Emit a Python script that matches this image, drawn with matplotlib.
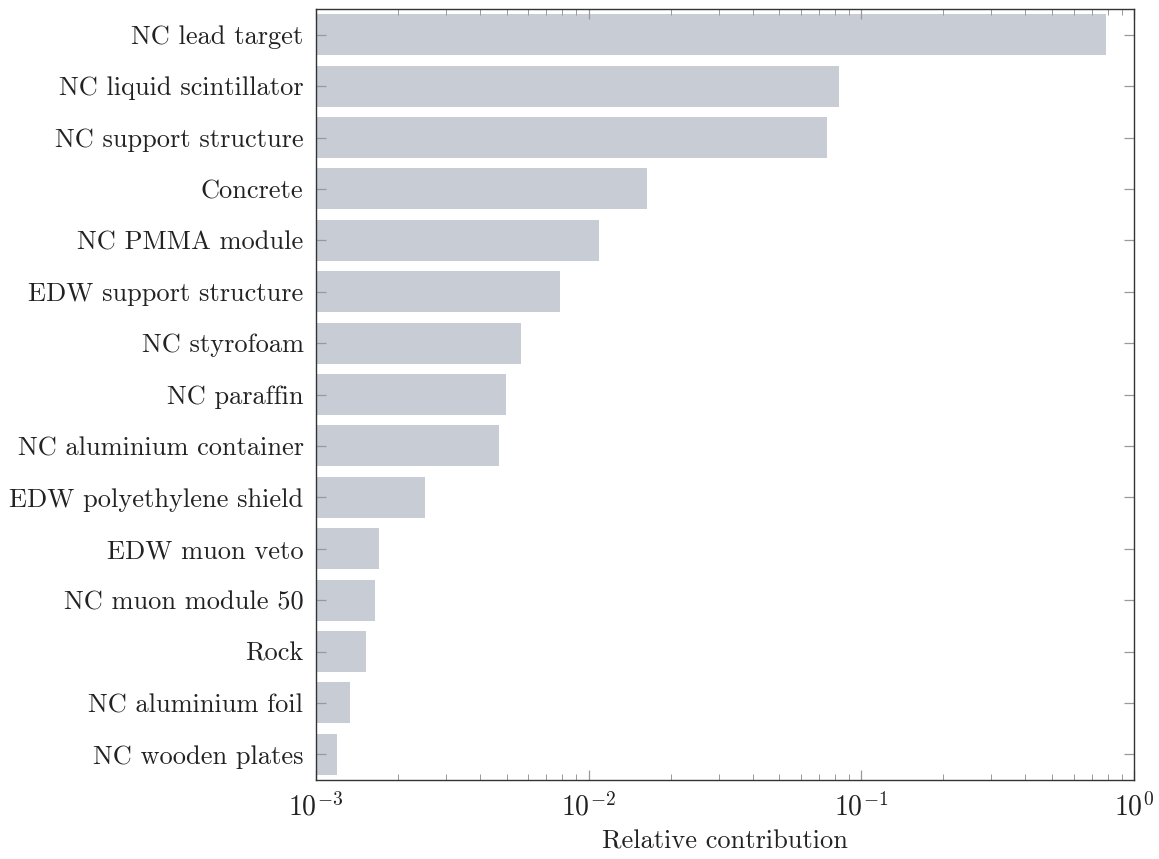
import matplotlib
matplotlib.use("Agg")
import matplotlib.pyplot as plt
from matplotlib.ticker import LogLocator, NullFormatter

plt.rcParams["font.family"] = ["cmr10"]
plt.rcParams["mathtext.fontset"] = "cm"
plt.rcParams["axes.formatter.use_mathtext"] = True

categories = [
    "NC lead target",
    "NC liquid scintillator",
    "NC support structure",
    "Concrete",
    "NC PMMA module",
    "EDW support structure",
    "NC styrofoam",
    "NC paraffin",
    "NC aluminium container",
    "EDW polyethylene shield",
    "EDW muon veto",
    "NC muon module 50",
    "Rock",
    "NC aluminium foil",
    "NC wooden plates",
]
contributions = [
    0.789, 0.0826, 0.0746, 0.0163, 0.0109, 0.00787, 0.00566, 0.00499,
    0.00470, 0.00251, 0.00170, 0.00165, 0.00153, 0.00133, 0.00119,
]

fig = plt.figure(figsize=(11.59, 8.59), dpi=100)
ax = fig.add_axes([316 / 1159, 1 - 780 / 859, (1134 - 316) / 1159, (780 - 9) / 859])

ypos = list(range(len(categories)))
ax.barh(ypos, contributions, height=0.8, color="#c8ccd5", left=0, zorder=1)
ax.set_xscale("log")
ax.set_xlim(1e-3, 1)
ax.set_ylim(len(categories) - 0.5, -0.5)
ax.set_yticks(ypos)
ax.set_yticklabels(categories, fontsize=19, color="#222222")

ax.xaxis.set_major_locator(LogLocator(base=10, numticks=10))
ax.xaxis.set_minor_locator(LogLocator(base=10, subs=range(2, 10), numticks=10))
ax.xaxis.set_minor_formatter(NullFormatter())

ax.tick_params(axis="x", which="both", direction="in", top=True, bottom=True,
               color="#999999", labelsize=20, labelcolor="#222222", pad=9)
ax.tick_params(axis="x", which="major", length=7, width=0.9)
ax.tick_params(axis="x", which="minor", length=4, width=0.7)
ax.tick_params(axis="y", which="major", direction="in", left=True, right=True,
               length=7, width=0.9, color="#999999", pad=9)
ax.tick_params(axis="y", which="minor", left=False, right=False)

for side in ["left", "right", "top", "bottom"]:
    ax.spines[side].set_linewidth(1.0)
    ax.spines[side].set_color("#333333")
    ax.spines[side].set_zorder(3)

ax.set_xlabel("Relative contribution", fontsize=19, color="#222222", labelpad=6)

fig.savefig("out.png", dpi=100)
